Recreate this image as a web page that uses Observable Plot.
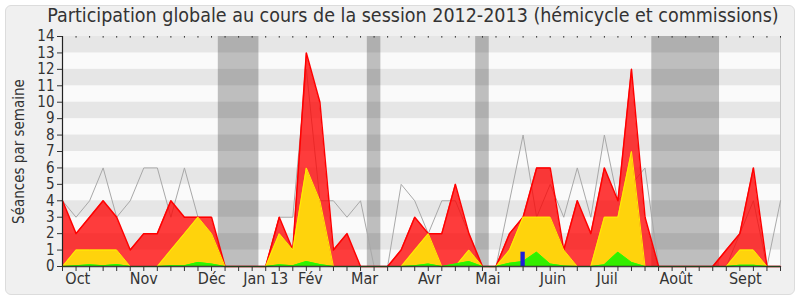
<!DOCTYPE html>
<html>
<head>
<meta charset="utf-8">
<script src="https://cdn.jsdelivr.net/npm/d3@7"></script>
<script src="https://cdn.jsdelivr.net/npm/@observablehq/plot@0.6"></script>
<style>
  body { margin: 0; background: #ffffff; }
  #wrap { position: relative; width: 800px; height: 300px; overflow: hidden; }
  #panel { position: absolute; left: 5px; top: 5px; width: 788px; height: 288px; background: #f0f0f0; border: 1px solid #dcdcdc; border-radius: 6px; }
  #chart { position: absolute; left: 0; top: 0; }
  #title { position: absolute; left: 0; top: 4px; width: 826px; text-align: center; font-family: "DejaVu Sans Condensed", "DejaVu Sans", sans-serif; font-stretch: condensed; font-size: 19.5px; color: #333; white-space: nowrap; }
</style>
</head>
<body>
<div id="wrap">
  <div id="panel"></div>
  <div id="chart"></div>
  <div id="title">Participation globale au cours de la session 2012-2013 (hémicycle et commissions)</div>
</div>
<script>
// Weekly values, session 2012-2013 (week 0 = first week of October 2012)
const weeks = d3.range(0, 54);
const presences = [4,2,3,4,3,1,2,2,4,3,3,3,0,0,0,0,3,1,13,10,1,2,0,0,0,1,3,2,2,5,2,0,0,2,3,6,6,1,4,2,6,4,12,3,0,0,0,0,0,1,2,6,0,0];
const participations = [0,1,1,1,1,0,0,0,1,2,3,2,0,0,0,0,2,1,6,4,0,0,0,0,0,0,1,2,0,0,1,0,0,1,3,3,3,1,0,0,3,3,7,0,0,0,0,0,0,0,1,1,0,0];
const interventions = [0,0.05,0.1,0.05,0.12,0,0,0,0.05,0.05,0.25,0.15,0,0,0,0,0.1,0.05,0.3,0.12,0,0,0,0,0,0,0.05,0.15,0,0.15,0.3,0,0,0.2,0.3,0.87,0.15,0.03,0,0,0.1,0.87,0.25,0,0,0,0,0,0,0,0.08,0.08,0,0];
const mediane = [4,3,4,6,3,4,6,6,3,6,3,1,0,0,0,0,3,3,12,4,4,3,4,0,0,5,4,2,4,4,2,0,0,4,8,3,5,3,6,3,8,4,5,6,0,0,0,0,0,0,2,4,0,4];
const questionWeeks = [34];
const questionValues = [0.87];
const vacationStart = [12, 23, 31, 44];
const vacationEnd = [14, 23, 31, 48];
const monthLabels = ["Oct","Nov","Déc","Jan 13","Fév","Mar","Avr","Mai","Juin","Juil","Août","Sept"];
const monthPositions = [1.13, 6.0, 11.02, 15.0, 18.3, 22.3, 27.1, 31.4, 36.2, 40.2, 45.3, 50.4];
const yTicks = d3.range(0, 15);
const darkBands = [1,3,5,7,9,11,13];

const rows = weeks.map((w, i) => ({w, red: presences[i], yellow: participations[i], green: interventions[i], med: mediane[i]}));
const questions = questionWeeks.map((w, i) => ({w, v: questionValues[i]}));
const vacations = vacationStart.map((s, i) => ({s, e: vacationEnd[i]}));
const labelByPos = new Map(monthPositions.map((p, i) => [p, monthLabels[i]]));

const font = "'DejaVu Sans Condensed', 'DejaVu Sans', sans-serif";

const chart = Plot.plot({
  width: 800,
  height: 300,
  marginLeft: 62,
  marginRight: 20,
  marginTop: 36,
  marginBottom: 34,
  style: {background: "transparent", fontFamily: font, fontSize: "16px", color: "#333"},
  x: {domain: [0, 53], axis: null},
  y: {domain: [0, 14], axis: null},
  marks: [
    Plot.frame({fill: "#fafafa", stroke: null}),
    Plot.rect(darkBands, {y1: d => d, y2: d => d + 1, fill: "#e6e6e6"}),
    Plot.rect(vacations, {x1: d => d.s - 0.5, x2: d => d.e + 0.5, fill: "#000", fillOpacity: 0.24}),
    Plot.ruleX([53], {stroke: "#c8c8c8"}),
    Plot.lineY(rows, {x: "w", y: "med", stroke: "#a8a8a8", strokeWidth: 1}),
    Plot.areaY(rows, {x: "w", y: "red", fill: "#ff0000", fillOpacity: 0.76}),
    Plot.lineY(rows, {x: "w", y: "red", stroke: "#ff0000", strokeWidth: 1.5}),
    Plot.areaY(rows, {x: "w", y: "yellow", fill: "#ffd30c"}),
    Plot.lineY(rows, {x: "w", y: "yellow", stroke: "#ffee00", strokeWidth: 1}),
    Plot.areaY(rows, {x: "w", y: "green", fill: "#33ee00"}),
    Plot.lineY(rows, {x: "w", y: "green", stroke: "#22ff00", strokeWidth: 1}),
    Plot.rectY(questions, {x1: d => d.w - 0.16, x2: d => d.w + 0.16, y: "v", fill: "#1e1ed8"}),
    Plot.ruleX(weeks, {x: d => d, y1: 14, y2: 13.9, stroke: "#333"}),
    Plot.ruleX([0], {stroke: "#222", strokeWidth: 1.2}),
    Plot.ruleY([0], {stroke: "#222", strokeWidth: 1.5, strokeOpacity: 0.85}),
    Plot.axisY({ticks: yTicks, tickSize: 5, tickPadding: 3, tickFormat: d => String(d), fontSize: 15, color: "#333",
      label: "Séances par semaine", labelAnchor: "center", labelArrow: "none", labelOffset: 49}),
    Plot.axisX({ticks: weeks, tickSize: 5, tickFormat: () => "", color: "#333", label: null}),
    Plot.axisX({ticks: monthPositions, tickSize: 0, tickPadding: 6, tickFormat: d => labelByPos.get(d), fontSize: 16, color: "#333", label: null})
  ]
});
document.getElementById("chart").appendChild(chart);
</script>
</body>
</html>
